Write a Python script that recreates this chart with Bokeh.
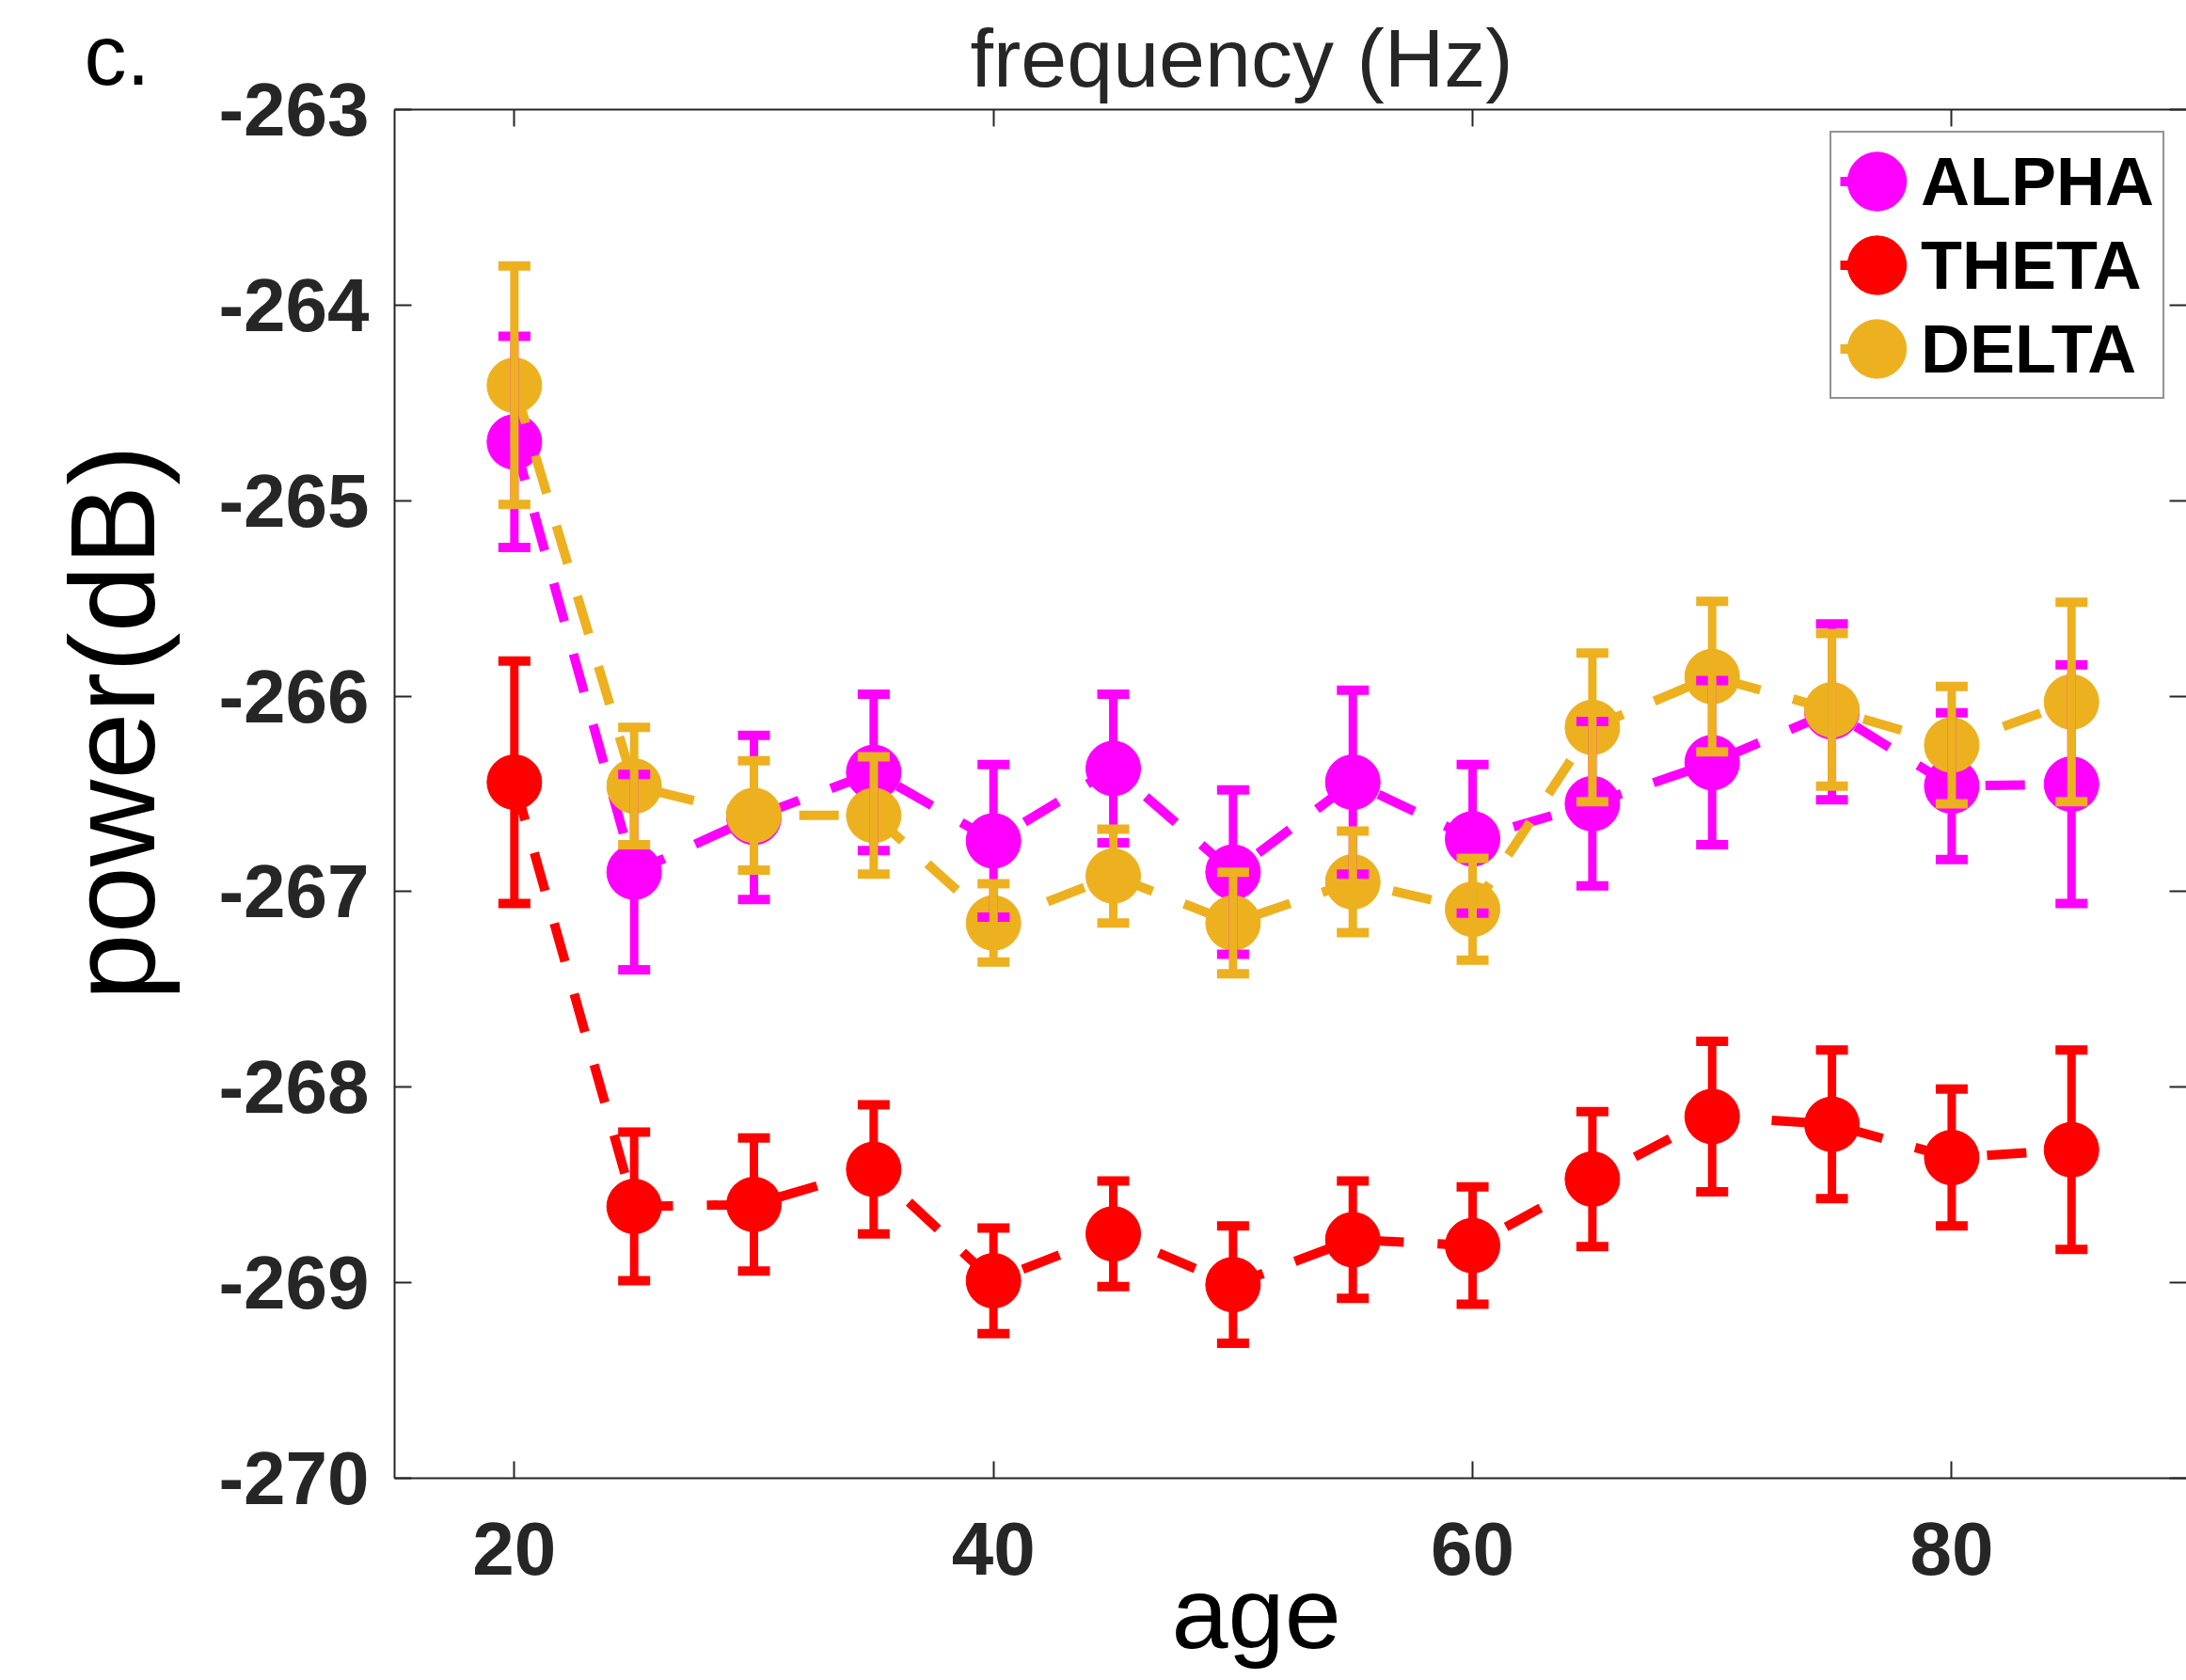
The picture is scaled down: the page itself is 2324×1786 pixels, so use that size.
from bokeh.plotting import figure
from bokeh.models import (ColumnDataSource, Whisker, TeeHead, Range1d, FixedTicker,
                          LinearAxis, Label, Legend, LegendItem, Title)
from bokeh.embed import file_html
from bokeh.resources import INLINE

# ---------------- data ----------------
ages = [20, 25, 30, 35, 40, 45, 50, 55, 60, 65, 70, 75, 80, 85]

alpha_mean = [-264.70, -266.90, -266.62, -266.39, -266.74, -266.37, -266.90,
              -266.44, -266.73, -266.55, -266.34, -266.08, -266.46, -266.45]
alpha_err = [0.54, 0.50, 0.42, 0.40, 0.39, 0.38, 0.42,
             0.47, 0.38, 0.42, 0.42, 0.45, 0.375, 0.61]

theta_mean = [-266.44, -268.61, -268.60, -268.42, -268.99, -268.75, -269.01,
              -268.78, -268.81, -268.47, -268.15, -268.19, -268.36, -268.32]
theta_err = [0.62, 0.38, 0.34, 0.33, 0.27, 0.27, 0.30,
             0.30, 0.30, 0.345, 0.385, 0.38, 0.35, 0.51]

delta_mean = [-264.41, -266.46, -266.61, -266.61, -267.16, -266.92, -267.16,
              -266.95, -267.09, -266.16, -265.90, -266.07, -266.25, -266.03]
delta_err = [0.61, 0.30, 0.28, 0.30, 0.20, 0.24, 0.26,
             0.26, 0.26, 0.38, 0.385, 0.39, 0.30, 0.51]

series_names = ["ALPHA", "THETA", "DELTA"]
series_colors = ["#FF00FF", "#FF0000", "#EDB120"]
series_means = [alpha_mean, theta_mean, delta_mean]
series_errs = [alpha_err, theta_err, delta_err]

x_ticks = [20, 40, 60, 80]
x_tick_labels = ["20", "40", "60", "80"]
y_ticks = [-270, -269, -268, -267, -266, -265, -264, -263]
y_tick_labels = ["-270", "-269", "-268", "-267", "-266", "-265", "-264", "-263"]

title_text = "frequency (Hz)"
panel_text = "c."
x_label = "age"
y_label = "power(dB)"

FONT = "Liberation Sans"
AXC = "#262626"

# ---------------- figure ----------------
p = figure(width=2324, height=1786, output_backend="svg", toolbar_location=None,
           x_range=Range1d(15, 89.8), y_range=Range1d(-270, -263),
           x_axis_location=None, y_axis_location=None,
           min_border_left=419, min_border_right=0,
           min_border_top=116, min_border_bottom=215)
p.title.visible = False
p.background_fill_color = "white"
p.border_fill_color = "white"
p.outline_line_color = None
for g in p.grid:
    g.visible = False


def make_axis(ticks, labels, show_labels, show_line=True):
    ax = LinearAxis(ticker=FixedTicker(ticks=ticks))
    ax.axis_line_color = AXC if show_line else None
    ax.axis_line_width = 2
    ax.major_tick_line_color = AXC
    ax.major_tick_line_width = 2
    ax.major_tick_in = 18
    ax.major_tick_out = 0
    ax.minor_tick_in = 0
    ax.minor_tick_out = 0
    if show_labels:
        ax.major_label_overrides = {t: l for t, l in zip(ticks, labels)}
        ax.major_label_text_font = FONT
        ax.major_label_text_font_style = "bold"
        ax.major_label_text_font_size = "80px"
        ax.major_label_text_color = AXC
    else:
        ax.major_label_overrides = {t: "" for t in ticks}
        ax.major_label_text_font_size = "1px"
        ax.major_label_standoff = 0
    return ax


# bottom axis + "age"
xb = make_axis(x_ticks, x_tick_labels, True)
xb.major_label_standoff = 47
p.add_layout(xb, "below")
p.add_layout(Title(text=x_label, align="left", offset=826, vertical_align="top",
                   standoff=-46, text_font=FONT, text_font_size="108px",
                   text_font_style="normal", text_color="black"), "below")

# left axis, "c." and "power(dB)"
yl = make_axis(y_ticks, y_tick_labels, True)
yl.major_label_standoff = 27
p.add_layout(yl, "left")
p.add_layout(Label(x=-70, y=1513, x_units="screen", y_units="screen", text=panel_text,
                   text_font=FONT, text_font_size="90px", text_color="black",
                   text_align="left", text_baseline="alphabetic"), "left")
p.add_layout(Title(text=y_label, align="left", offset=508, vertical_align="bottom",
                   standoff=-62, text_font=FONT, text_font_size="128px",
                   text_font_style="normal", text_color="black"), "left")

# top axis + title
p.add_layout(make_axis(x_ticks, x_tick_labels, False), "above")
p.add_layout(Title(text=title_text, align="left", offset=612, vertical_align="bottom",
                   standoff=12, text_font=FONT, text_font_size="88px",
                   text_font_style="normal", text_color=AXC), "above")

# right axis (ticks only; its border lies at the picture's edge)
p.add_layout(make_axis(y_ticks, y_tick_labels, False, show_line=False), "right")

# ---------------- series ----------------
items = []
for name, color, mean, err in zip(series_names, series_colors, series_means, series_errs):
    src = ColumnDataSource(dict(
        x=ages, y=mean,
        upper=[m + e for m, e in zip(mean, err)],
        lower=[m - e for m, e in zip(mean, err)],
    ))
    ln = p.line("x", "y", source=src, line_color=color, line_width=10, line_dash="42 36")
    wh = Whisker(source=src, base="x", upper="upper", lower="lower",
                 line_color=color, line_width=9, level="glyph",
                 upper_head=TeeHead(size=34, line_color=color, line_width=10),
                 lower_head=TeeHead(size=34, line_color=color, line_width=10))
    p.add_layout(wh)
    mk = p.ellipse("x", "y", width=58, height=58, width_units="screen", height_units="screen",
                   source=src, fill_color=color, line_color=color, line_width=1)
    items.append(LegendItem(label=name, renderers=[ln, mk]))

legend = Legend(items=items, location="top_right")
legend.label_text_font = FONT
legend.label_text_font_style = "bold"
legend.label_text_font_size = "72px"
legend.label_text_color = "black"
legend.glyph_width = 78
legend.glyph_height = 85
legend.spacing = 4
legend.padding = 9
legend.margin = 23
legend.label_standoff = 8
legend.border_line_color = AXC
legend.border_line_width = 2
legend.background_fill_color = "white"
legend.background_fill_alpha = 1.0
p.add_layout(legend)

open("out.html", "w").write(file_html(p, INLINE))
